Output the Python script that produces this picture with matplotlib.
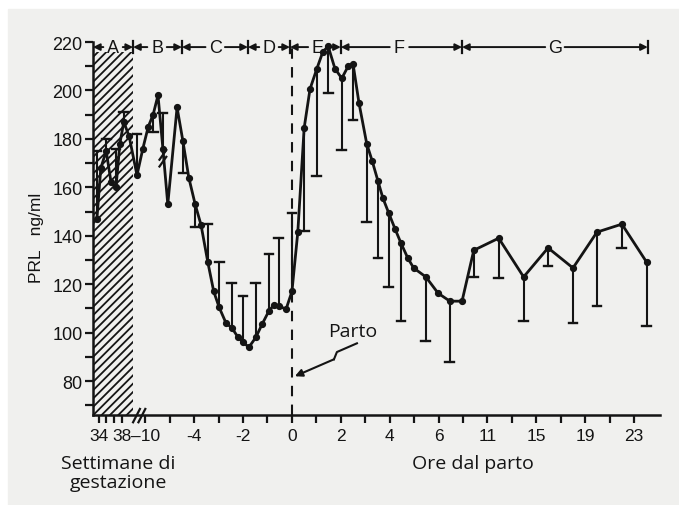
import matplotlib.pyplot as plt
from matplotlib.patches import Rectangle
import numpy as np

# x values are positions on the (irregular) time axis: one unit per labelled tick
pos = [-3.99, -3.91, -3.80, -3.70, -3.60, -3.52, -3.44, -3.33, -3.17,
       -3.05, -2.94, -2.84, -2.74, -2.64, -2.54, -2.35, -2.23, -2.11, -1.98,
       -1.86, -1.72, -1.60, -1.49, -1.35, -1.23, -1.10, -1.00, -0.88, -0.74,
       -0.61, -0.47, -0.37, -0.27, -0.12, 0.00, 0.12, 0.25, 0.37, 0.51,
       0.63, 0.74, 0.88, 1.02, 1.15, 1.25, 1.37, 1.53, 1.64, 1.76,
       1.86, 1.98, 2.11, 2.23, 2.37, 2.49, 2.74, 2.99, 3.23, 3.48,
       3.72, 4.23, 4.74, 5.24, 5.75, 6.24, 6.75, 7.26]
prl = [147, 168, 175, 162, 160, 178, 187, 181, 165,
       176, 185, 190, 198, 176, 153, 193, 179, 164, 153,
       144.5, 129, 117, 110.5, 104, 102, 98, 96, 94, 98,
       103.5, 109, 111.4, 111, 109.7, 117, 141.5, 184.5, 200.6, 209,
       215.8, 218.3, 209, 205, 210, 211, 195, 178, 171, 162.6,
       155.6, 149.4, 142.8, 137, 130.8, 126.7, 123, 116.3, 113, 113,
       134, 139, 123, 135, 126.7, 141.5, 144.8, 129]
nan = np.nan
# end of the one-sided error bar drawn from each point (nan = no bar)
err_end = [175, nan, 180, nan, 176, nan, 191, nan, 182,
           nan, nan, 183, nan, 190.5, nan, nan, 166, nan, 143.6,
           nan, 145, nan, 129, nan, 120.5, nan, 115, nan, 120.5,
           nan, 132.5, nan, 139, nan, 149.4, nan, 142, nan, 164.6,
           nan, 199, nan, 175.6, nan, 188, nan, 145.6, nan, 130.8,
           nan, 118.8, nan, 104.8, nan, nan, 96.5, nan, 87.8, nan,
           123, 122.5, 104.8, 127.5, 104, 111, 135, 102.7]

tick_pos = [-3.94, -3.48, -3, -2, -1, 0, 1, 2, 3, 4, 5, 6, 7]
tick_labels = ["34", "38", "–10", "-4", "-2", "0", "2", "4", "6",
               "11", "15", "19", "23"]
minor_pos = [-3.80, -3.65, -2.5, -1.5, -0.5, 0.5, 1.5, 2.5, 3.5,
             4.5, 5.5, 6.5]

phase_names = ["A", "B", "C", "D", "E", "F", "G"]
phase_bounds = [-4.07, -3.25, -2.25, -0.90, -0.04, 1.00, 3.48, 7.28]
phase_centers = [-3.66, -2.76, -1.57, -0.47, 0.53, 2.20, 5.38]

INK = "#141414"
TICK_FONT = "Liberation Sans"
TEXT_FONT = "Open Sans"

plt.rcParams["hatch.linewidth"] = 1.3

fig = plt.figure(figsize=(6.79, 5.06), dpi=100, facecolor="white")
fig.patches.append(Rectangle((8 / 679, 0), 1, 496 / 506, transform=fig.transFigure,
                             color="#f0f0ee", zorder=-10))
ax = fig.add_axes([93 / 679, 90 / 506, 567 / 679, 373 / 506])
ax.set_facecolor("none")
ax.set_xlim(-4.07, 7.53)
ax.set_ylim(66, 220)

for side in ("top", "right"):
    ax.spines[side].set_visible(False)
for side in ("left", "bottom"):
    ax.spines[side].set_linewidth(1.8)
    ax.spines[side].set_color(INK)

# hatched block for the weeks of gestation
ax.add_patch(Rectangle((-4.07, 66), 0.82, 150, hatch="////", facecolor="none",
                       edgecolor=INK, linewidth=0, zorder=1))

# error bars with caps
cap = 0.09
for x, y, e in zip(pos, prl, err_end):
    if np.isnan(e):
        continue
    ax.plot([x, x], [y, e], color=INK, lw=1.5, zorder=3)
    ax.plot([x - cap, x + cap], [e, e], color=INK, lw=1.7, zorder=3)

ax.plot(pos, prl, color=INK, lw=2.0, marker="o", markersize=4.2, zorder=4)

# break marks on the curve and on the axis
for dy in (-1.4, 1.4):
    ax.plot([-2.71, -2.57], [172 + dy - 2, 172 + dy + 2], color=INK, lw=1.6, zorder=5)
for x0 in (-3.25, -3.14):
    ax.plot([x0, x0 + 0.14], [63, 68.5], color=INK, lw=1.6, clip_on=False, zorder=5)

# delivery line
ax.plot([0, 0], [66, 219], color=INK, lw=1.5, dashes=(5, 4), zorder=2)

# phase bar along the top
y_bar = 217.9
for b in phase_bounds[1:]:
    ax.plot([b, b], [215.3, 220.6], color=INK, lw=1.6, clip_on=False)
for name, c, lo, hi in zip(phase_names, phase_centers, phase_bounds[:-1], phase_bounds[1:]):
    ax.text(c, y_bar, name, ha="center", va="center", fontsize=13,
            family=TICK_FONT, color=INK)
    for end in (lo, hi):
        ax.annotate("", xy=(end, y_bar), xytext=(c, y_bar),
                    arrowprops=dict(arrowstyle="-|>", color=INK, lw=1.4,
                                    shrinkA=7, shrinkB=0, mutation_scale=10),
                    annotation_clip=False)

# "Parto" label with broken arrow
ax.text(1.24, 100.6, "Parto", ha="center", va="center", fontsize=14,
        family=TEXT_FONT, color=INK)
ax.plot([1.33, 0.92, 0.86], [95.6, 92.0, 89.0], color=INK, lw=1.5)
ax.annotate("", xy=(0.06, 82.0), xytext=(0.86, 89.0),
            arrowprops=dict(arrowstyle="-|>", color=INK, lw=1.5,
                            shrinkA=0, shrinkB=0, mutation_scale=11))

ax.set_xticks(tick_pos, tick_labels)
ax.set_xticks(minor_pos, minor=True)
ax.set_yticks(np.arange(80, 221, 20))
ax.set_yticks(np.arange(70, 220, 10), minor=True)
ax.tick_params(axis="both", which="both", direction="out", length=6,
               width=1.6, color=INK, labelcolor=INK)
ax.tick_params(axis="x", pad=3.5)
ax.tick_params(axis="y", pad=1.5)
for lbl in ax.get_xticklabels():
    lbl.set_family(TICK_FONT)
    lbl.set_fontsize(12.5)
for lbl in ax.get_yticklabels():
    lbl.set_family(TICK_FONT)
    lbl.set_fontsize(13)

fig.text(37 / 679, 1 - 238 / 506, "PRL   ng/ml", rotation=90, ha="center",
         va="center", fontsize=12.5, family=TICK_FONT, color=INK)
fig.text(118 / 679, 1 - 455 / 506, "Settimane di\ngestazione", ha="center",
         va="top", fontsize=14, family=TEXT_FONT, color=INK, linespacing=1.05)
fig.text(473 / 679, 1 - 455 / 506, "Ore dal parto", ha="center", va="top",
         fontsize=14, family=TEXT_FONT, color=INK)

fig.savefig("out.png", dpi=100, facecolor=fig.get_facecolor())
